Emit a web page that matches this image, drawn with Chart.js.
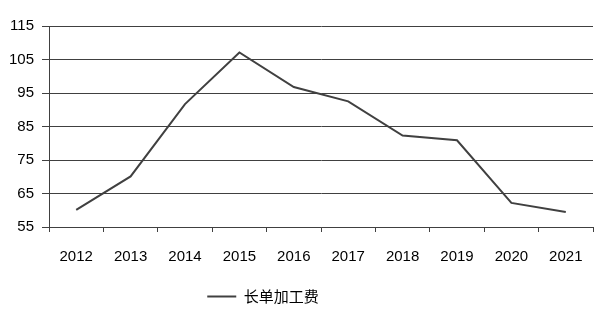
<!DOCTYPE html>
<html lang="zh">
<head>
<meta charset="UTF-8">
<title>长单加工费</title>
<script src="https://cdn.jsdelivr.net/npm/chart.js"></script>
<style>
  html, body { margin: 0; padding: 0; background: #fff; }
  #box { width: 602px; height: 314px; }
</style>
</head>
<body>
<div id="box"><canvas id="myChart" width="602" height="314"></canvas></div>
<script>
    var anos = ['2012', '2013', '2014', '2015', '2016', '2017', '2018', '2019', '2020', '2021'];
    var fee = [60.1, 70.1, 91.7, 107.1, 96.8, 92.5, 82.3, 80.9, 62.2, 59.5];
    var seriesName = '长单加工费';

    var fontFamily = '"Liberation Sans", "Noto Sans CJK SC", sans-serif';
    var cinza = '#404040';

    // the legend in the reference sits left of the page centre
    var legendShift = {
        id: 'legendShift',
        afterLayout: function (chart) {
            chart.legend.left = 0;
            chart.legend.right = 526;
        }
    };

    new Chart(document.getElementById('myChart'), {
        type: 'line',
        data: {
            labels: anos,
            datasets: [{
                label: seriesName,
                data: fee,
                borderColor: cinza,
                backgroundColor: cinza,
                borderWidth: 2,
                pointRadius: 0,
                tension: 0
            }]
        },
        plugins: [legendShift],
        options: {
            responsive: false,
            animation: false,
            layout: { padding: { top: 26, right: 9, left: 0, bottom: 0 } },
            plugins: {
                tooltip: { enabled: false },
                legend: {
                    position: 'bottom',
                    labels: {
                        usePointStyle: true,
                        pointStyle: 'line',
                        pointStyleWidth: 29,
                        color: '#000',
                        padding: 4,
                        font: { family: '"Noto Sans CJK SC", sans-serif', size: 15 }
                    }
                }
            },
            scales: {
                x: {
                    offset: true,
                    afterFit: function (scale) { scale.height = 58; },
                    grid: { display: true, drawOnChartArea: false, tickLength: 5, color: cinza, offset: true },
                    border: { color: cinza, width: 1 },
                    ticks: { color: '#000', padding: 16, maxRotation: 0, font: { family: fontFamily, size: 15 } }
                },
                y: {
                    min: 55,
                    max: 115,
                    afterFit: function (scale) { scale.width = 49; },
                    grid: { color: cinza, tickLength: 7, lineWidth: 1 },
                    border: { color: cinza, width: 1 },
                    ticks: { stepSize: 10, color: '#000', padding: 8, font: { family: fontFamily, size: 15 } }
                }
            }
        }
    });
</script>
</body>
</html>
